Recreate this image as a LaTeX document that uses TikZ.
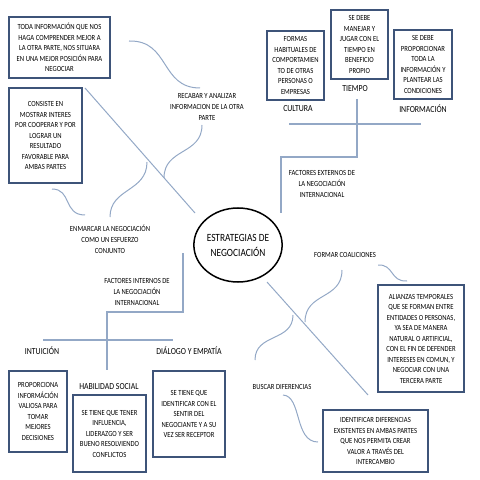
\documentclass[tikz,border=0pt]{standalone}
\usepackage{fontspec}
\setmainfont[FakeStretch=0.85]{Carlito}
\usetikzlibrary{shapes.geometric}
\definecolor{boxblue}{HTML}{3E5479}
\definecolor{linkblue}{HTML}{93A8C6}
\tikzset{
  box/.style={draw=boxblue, line width=1.8bp, inner sep=0pt, align=center,
    font=\fontsize{7.8bp}{10.5bp}\selectfont},
  lbl/.style={inner sep=0pt, align=center, font=\fontsize{7.8bp}{10.8bp}\selectfont},
  head/.style={inner sep=0pt, align=center, font=\fontsize{9.2bp}{11bp}\selectfont},
  link/.style={draw=linkblue, line width=1bp},
  tree/.style={draw=linkblue, line width=1.1bp},
}
\begin{document}
\begin{tikzpicture}[x=1bp,y=-1bp]
\useasboundingbox (0,0) rectangle (480,480);
% central ellipse
\node[draw=black, line width=1.5bp, ellipse, minimum width=88bp, minimum height=74bp, inner sep=0pt, align=center,
  font=\fontsize{11bp}{15bp}\selectfont] (core) at (238,245) {ESTRATEGIAS DE\\NEGOCIACIÓN};

% boxes
\node[box, minimum width=101bp, minimum height=61bp] (b1) at (59.5,47.5)
 {TODA INFORMACIÓN QUE NOS\\HAGA COMPRENDER MEJOR A\\LA OTRA PARTE, NOS SITUARA\\EN UNA MEJOR POSICIÓN PARA\\NEGOCIAR};
\node[box, minimum width=73bp, minimum height=95bp] (b2) at (45.5,135.5)
 {CONSISTE EN\\MOSTRAR INTERES\\POR COOPERAR Y POR\\LOGRAR UN\\RESULTADO\\FAVORABLE PARA\\AMBAS PARTES};
\node[box, minimum width=57bp, minimum height=69bp] (bcul) at (295.5,65.5)
 {FORMAS\\HABITUALES DE\\COMPORTAMIEN\\TO DE OTRAS\\PERSONAS O\\EMPRESAS};
\node[box, minimum width=57bp, minimum height=69bp] (btie) at (359.5,44.5)
 {SE DEBE\\MANEJAR Y\\JUGAR CON EL\\TIEMPO EN\\BENEFICIO\\PROPIO};
\node[box, minimum width=58bp, minimum height=69bp] (binf) at (423,64.5)
 {SE DEBE\\PROPORCIONAR\\TODA LA\\INFORMACIÓN Y\\PLANTEAR LAS\\CONDICIONES};
\node[box, minimum width=58bp, minimum height=81bp] (bint) at (38,411.5)
 {PROPORCIONA\\INFORMÁCIÓN\\VALIOSA PARA\\TOMAR\\MEJORES\\DECISIONES};
\node[box, minimum width=73bp, minimum height=77bp] (bhab) at (109.5,433.5)
 {SE TIENE QUE TENER\\INFLUENCIA,\\LIDERAZGO Y SER\\BUENO RESOLVIENDO\\CONFLICTOS};
\node[box, minimum width=72bp, minimum height=86bp] (bdia) at (189,414)
 {SE TIENE QUE\\IDENTIFICAR CON EL\\SENTIR DEL\\NEGOCIANTE Y A SU\\VEZ SER RECEPTOR};
\node[box, minimum width=86bp, minimum height=107bp] (bali) at (421,338.5)
 {ALIANZAS TEMPORALES\\QUE SE FORMAN ENTRE\\ENTIDADES O PERSONAS,\\YA SEA DE MANERA\\NATURAL O ARTIFICIAL,\\CON EL FIN DE DEFENDER\\INTERESES EN COMUN, Y\\NEGOCIAR CON UNA\\TERCERA PARTE};
\node[box, minimum width=105bp, minimum height=62bp] (bide) at (375.5,441)
 {IDENTIFICAR DIFERENCIAS\\EXISTENTES EN AMBAS PARTES\\QUE NOS PERMITA CREAR\\VALOR A TRAVÉS DEL\\INTERCAMBIO};

% labels
\node[lbl] (recabar) at (207,107) {RECABAR Y ANALIZAR\\INFORMACION DE LA OTRA\\PARTE};
\node[lbl] (enmarcar) at (110,239.5) {ENMARCAR LA NEGOCIACIÓN\\COMO UN ESFUERZO\\CONJUNTO};
\node[lbl] (externos) at (322,184) {FACTORES EXTERNOS DE\\LA NEGOCIACIÓN\\INTERNACIONAL};
\node[lbl] (internos) at (137,292) {FACTORES INTERNOS DE\\LA NEGOCIACIÓN\\INTERNACIONAL};
\node[lbl] (coal) at (345,255) {FORMAR COALICIONES};
\node[lbl] (busc) at (282,387) {BUSCAR DIFERENCIAS};
\node[head] (lcul) at (298,109) {CULTURA};
\node[head] (ltie) at (355,89) {TIEMPO};
\node[head] (linf) at (423,109) {INFORMACIÓN};
\node[head] (lint) at (42,351) {INTUICIÓN};
\node[head] (ldia) at (189,351) {DIÁLOGO Y EMPATÍA};
\node[head] (lhab) at (109,387) {HABILIDAD SOCIAL};

% coordinates
\coordinate (d1a) at (85,88);
\coordinate (d1b) at (195,213);
\coordinate (d2a) at (267,282);
\coordinate (d2b) at (368,395);
\coordinate (e1) at (289,124);
\coordinate (e2) at (421,124);
\coordinate (e3) at (357,99);
\coordinate (e4) at (281,213);
\coordinate (i1) at (183,253);
\coordinate (i2) at (107,370);
\coordinate (i3) at (43,340);
\coordinate (i4) at (173,340);

% diagonals
\draw[link] (d1a) -- (d1b);
\draw[link] (d2a) -- (d2b);
% external tree
\draw[tree] (e1) -- (e2);
\draw[tree] (e3) |- (281,157) -- (e4);
% internal tree
\draw[tree] (i1) -- (183,312) -| (i2);
\draw[tree] (i3) -- (i4);

% curves
\coordinate (c1a) at (129,41); \coordinate (c1b) at (200,88);
\draw[link] (c1a) .. controls (170,40) and (160,88) .. (c1b);
\coordinate (c2a) at (202,125); \coordinate (c2b) at (164,178);
\draw[link] (c2a) .. controls (202,155) and (164,148) .. (c2b);
\coordinate (c3a) at (52,189); \coordinate (c3b) at (85,215);
\draw[link] (c3a) .. controls (72,189) and (63,215) .. (c3b);
\coordinate (c4a) at (110,217); \coordinate (c4b) at (147,162);
\draw[link] (c4a) .. controls (110,188) and (147,192) .. (c4b);
\coordinate (c5a) at (342,270); \coordinate (c5b) at (305,322);
\draw[link] (c5a) .. controls (342,300) and (305,292) .. (c5b);
\coordinate (c6a) at (378,265); \coordinate (c6b) at (407,281);
\draw[link] (c6a) .. controls (394,264) and (390,282) .. (c6b);
\coordinate (c7a) at (255,360); \coordinate (c7b) at (293,315);
\draw[link] (c7a) .. controls (255,333) and (293,342) .. (c7b);
\coordinate (c8a) at (283,395); \coordinate (c8b) at (318,442);
\draw[link] (c8a) .. controls (302,396) and (294,442) .. (c8b);
\end{tikzpicture}
\end{document}
